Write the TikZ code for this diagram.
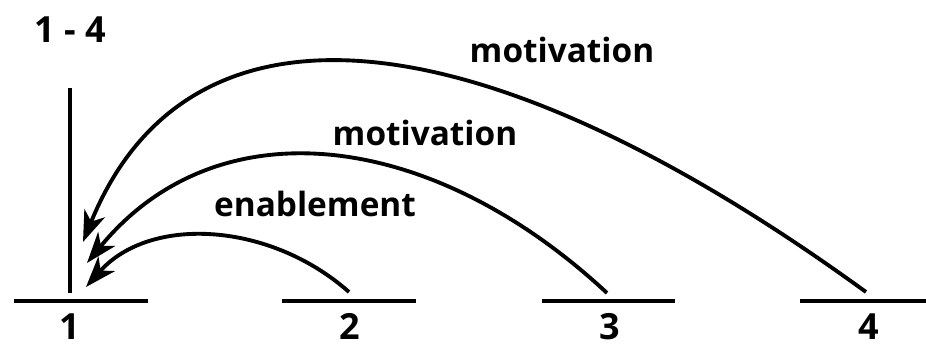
\documentclass[tikz,border=0pt]{standalone}
\usepackage{fontspec}
\setmainfont{Open Sans}
\usetikzlibrary{arrows.meta}

\begin{document}
\begin{tikzpicture}[
    x=0.02cm, y=-0.02cm,
    lbl/.style={font=\fontsize{19}{22}\selectfont\bfseries, inner sep=0pt, anchor=base},
    num/.style={lbl, font=\fontsize{20.5}{24}\selectfont\bfseries},
    base/.style={line width=2.4pt},
    arr/.style={-{Stealth[length=0.62cm, width=0.44cm, inset=0.18cm]}, line width=2.2pt},
]
\useasboundingbox (0,0) rectangle (926,348);

% segments on the time line
\draw[base] (14,301) -- (148,301);
\draw[base] (282,301) -- (416,301);
\draw[base] (542,301) -- (675,301);
\draw[base] (800,301) -- (926,301);

% bar over segment 1
\draw[base] (70,88) -- (70,293);

% labels
\node[num] (span) at (70,43) {1 - 4};
\node[num] (n1) at (70,339) {1};
\node[num] (n2) at (350,339) {2};
\node[num] (n3) at (610,339) {3};
\node[num] (n4) at (869,339) {4};

% arrow ends
\coordinate (s2) at (349,292);
\coordinate (s3) at (607,293);
\coordinate (s4) at (866,292);
\coordinate (t2) at (86,287);
\coordinate (t3) at (87,263);
\coordinate (t4) at (83,242);

% enablement
\draw[arr] (s2) .. controls (270,222) and (150,215) .. (t2);
\node[lbl] (en) at (315,216) {enablement};

% motivation 3
\draw[arr] (s3) .. controls (432,130) and (218,103) .. (t3);
\node[lbl] (mot3) at (425,145) {motivation};

% motivation 4
\draw[arr] (s4) .. controls (478,10) and (188,-17) .. (t4);
\node[lbl] (mot4) at (562,63) {motivation};

\end{tikzpicture}
\end{document}
